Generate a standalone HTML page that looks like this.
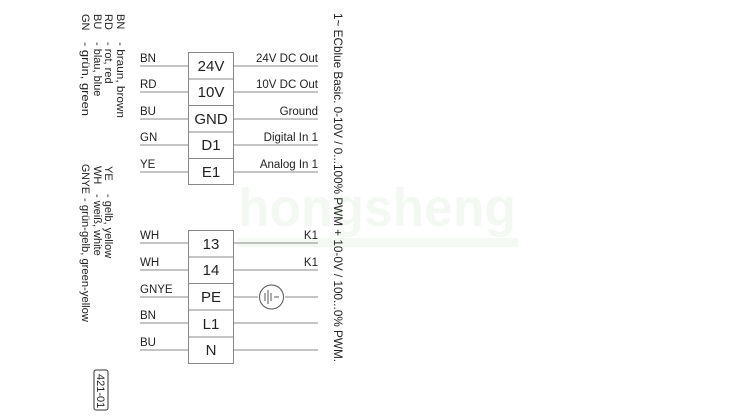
<!DOCTYPE html>
<html><head><meta charset="utf-8"><style>
html,body{margin:0;padding:0;background:#fff;width:750px;height:418px;overflow:hidden}
svg{display:block}
text{font-family:"Liberation Sans",Arial,sans-serif;fill:#222}
</style></head><body>
<svg width="750" height="418" viewBox="0 0 750 418" xmlns="http://www.w3.org/2000/svg">
<!-- watermark -->
<text x="238" y="226" font-size="54" font-weight="bold" style="fill:#f3f9f2" textLength="278" lengthAdjust="spacingAndGlyphs">hongsheng</text>
<rect x="238" y="238" width="280" height="9" fill="#f4faf3"/>

<!-- title -->
<text transform="translate(334,13) rotate(90)" font-size="12" textLength="349" lengthAdjust="spacingAndGlyphs">1~ ECblue Basic.  0-10V / 0...100% PWM + 10-0V / 100...0% PWM.</text>

<!-- legend -->
<g font-size="11">
<text transform="translate(117,14) rotate(90)">BN</text>
<text transform="translate(117,42) rotate(90)" textLength="76" lengthAdjust="spacingAndGlyphs">- braun, brown</text>
<text transform="translate(105,14) rotate(90)">RD</text>
<text transform="translate(105,42) rotate(90)">- rot, red</text>
<text transform="translate(94,14) rotate(90)">BU</text>
<text transform="translate(94,42) rotate(90)">- blau, blue</text>
<text transform="translate(82,14) rotate(90)">GN</text>
<text transform="translate(82,42) rotate(90)" textLength="74" lengthAdjust="spacingAndGlyphs">- grün, green</text>

<text transform="translate(105,166) rotate(90)">YE</text>
<text transform="translate(105,194) rotate(90)">- gelb, yellow</text>
<text transform="translate(94,166) rotate(90)">WH</text>
<text transform="translate(94,194) rotate(90)">- weiß, white</text>
<text transform="translate(82,164) rotate(90)" textLength="30" lengthAdjust="spacingAndGlyphs">GNYE</text>
<text transform="translate(82,198) rotate(90)" textLength="124" lengthAdjust="spacingAndGlyphs">- grün-gelb, green-yellow</text>
</g>
<rect x="94" y="370" width="14" height="40" rx="2" fill="none" stroke="#333" stroke-width="1"/>
<text transform="translate(97,374) rotate(90)" font-size="11">421-01</text>

<g stroke="#888" stroke-width="1" fill="none">
<rect x="188.5" y="52.5" width="45" height="132"/>
<line x1="188" y1="79" x2="233" y2="79"/><line x1="188" y1="105.5" x2="233" y2="105.5"/>
<line x1="188" y1="132" x2="233" y2="132"/><line x1="188" y1="158.5" x2="233" y2="158.5"/>
<rect x="188.5" y="230.5" width="45" height="133"/>
<line x1="188" y1="257" x2="233" y2="257"/><line x1="188" y1="283.5" x2="233" y2="283.5"/>
<line x1="188" y1="310" x2="233" y2="310"/><line x1="188" y1="337" x2="233" y2="337"/>
<path d="M140 66H188M233 66H318 M140 92H188M233 92H318 M140 119H188M233 119H318 M140 145H188M233 145H318 M140 172H188M233 172H318"/>
<path d="M140 243H188M233 243H318 M140 270H188M233 270H318 M140 297H188M233 297H258M285 297H318 M140 323H188M233 323H318 M140 350H188M233 350H318"/>
<circle cx="271.5" cy="297" r="12" stroke="#555"/>
<path d="M265 293V301M268 290V304M271 293V301M274 297H279" stroke="#555"/>
</g>

<g font-size="15" text-anchor="middle">
<text x="211" y="71">24V</text><text x="211" y="97">10V</text><text x="211" y="124">GND</text>
<text x="211" y="150">D1</text><text x="211" y="177">E1</text>
<text x="211" y="249">13</text><text x="211" y="275">14</text><text x="211" y="302">PE</text>
<text x="211" y="329">L1</text><text x="211" y="355">N</text>
</g>
<g font-size="11.5">
<text x="140" y="62">BN</text><text x="140" y="88">RD</text><text x="140" y="115">BU</text>
<text x="140" y="141">GN</text><text x="140" y="168">YE</text>
<text x="140" y="239">WH</text><text x="140" y="266">WH</text><text x="140" y="293">GNYE</text>
<text x="140" y="319">BN</text><text x="140" y="346">BU</text>
</g>
<g font-size="11.5" text-anchor="end">
<text x="318" y="62">24V  DC Out</text><text x="318" y="88">10V  DC Out</text>
<text x="318" y="115">Ground</text><text x="318" y="141">Digital In 1</text>
<text x="318" y="168">Analog In 1</text>
<text x="318" y="239">K1</text><text x="318" y="266">K1</text>
</g>
</svg>
</body></html>
